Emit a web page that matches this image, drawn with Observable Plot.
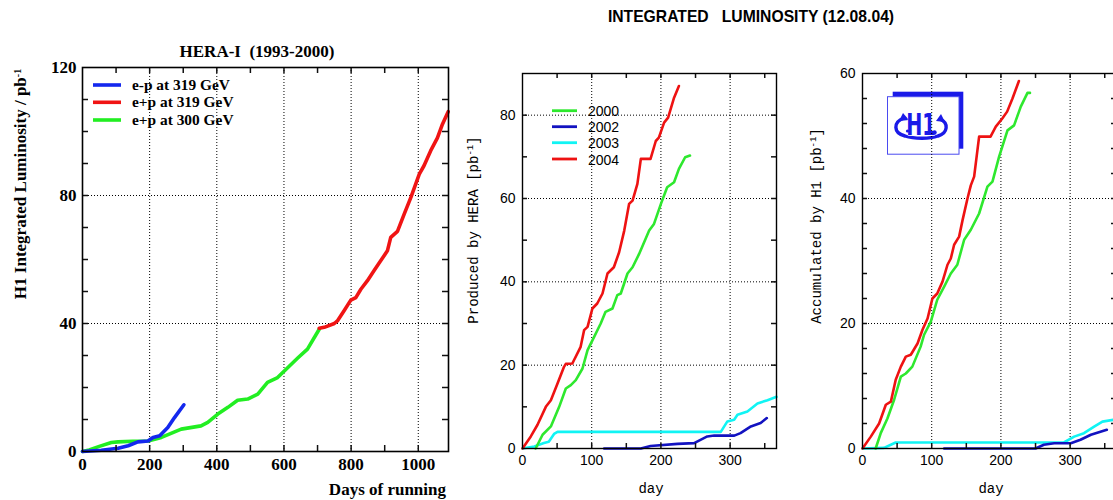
<!DOCTYPE html>
<html><head><meta charset="utf-8">
<script src="https://cdn.jsdelivr.net/npm/d3@7"></script>
<script src="https://cdn.jsdelivr.net/npm/@observablehq/plot@0.6"></script>
<style>
html,body{margin:0;padding:0;background:#fff;overflow:hidden;}
#root{position:relative;width:1113px;height:500px;overflow:hidden;background:#fff;}
#root > svg, #root > div{position:absolute;}
</style></head><body><div id="root"></div>
<script>
// ---------- Panel 1: HERA-I (1993-2000), days of running vs luminosity ----------
const h1EpDays  = [0, 56, 106, 136, 165, 195, 210, 230, 254, 274, 302];
const h1EpLum   = [0, 0.4, 1.0, 1.8, 3.0, 3.3, 4.4, 4.9, 7.5, 10.6, 14.6];
const h1Ep300Days = [0, 20, 50, 86, 106, 150, 195, 235, 294, 353, 373, 403, 433, 462, 492, 522, 551, 581, 611, 641, 670, 705];
const h1Ep300Lum  = [0, 0.5, 1.6, 2.8, 3.0, 3.2, 3.3, 4.4, 7.0, 8.0, 9.1, 11.7, 13.8, 16.0, 16.4, 17.9, 21.6, 23.1, 26.2, 29.2, 32.0, 38.2];
const h1Ep319Days = [705, 720, 750, 759, 779, 799, 814, 829, 848, 868, 888, 908, 918, 938, 958, 978, 1003, 1017, 1037, 1057, 1072, 1089];
const h1Ep319Lum  = [38.5, 38.8, 40.0, 40.8, 44.0, 47.3, 48.1, 50.7, 53.3, 56.5, 59.6, 62.7, 66.9, 68.8, 74.2, 79.4, 86.7, 89.3, 94.0, 98.0, 102.3, 106.2];
const p1Names = ["e-p at 319 GeV", "e+p at 319 GeV", "e+p at 300 GeV"];

// ---------- Panel 2: Produced by HERA ----------
const hera2000Days = [19, 29, 41, 53, 62.6, 69.8, 77, 86.7, 94, 103.5, 113, 120, 130, 137, 142, 151.7, 159, 168.5, 183, 190, 200, 209, 219, 226, 235, 242];
const hera2000Val  = [0, 3.3, 5.3, 10, 14.4, 15.2, 16.4, 19.2, 23.6, 26.8, 30, 32.8, 33.6, 36.8, 37.2, 42, 43.5, 46.7, 52.3, 53.9, 58.7, 62.7, 63.9, 67.1, 69.9, 70.3];
const hera2002Days = [118, 171, 185, 224, 248, 267, 277, 306, 315, 330, 344, 353];
const hera2002Val  = [0, 0, 0.6, 1.1, 1.3, 2.9, 3.1, 3.1, 3.7, 5.3, 6.1, 7.3];
const hera2003Days = [0, 17, 31, 38, 45.6, 50.6, 286.5, 296, 305.8, 310.6, 325, 339.5, 354, 367];
const hera2003Val  = [0, 0.5, 1.3, 1.6, 3.5, 4.0, 4.0, 6.5, 6.9, 8.1, 8.9, 10.8, 11.6, 12.4];
const hera2004Days = [0, 12, 21.7, 33.7, 41, 50.6, 60, 62.6, 72, 84, 89, 94, 101, 108, 115.6, 122.8, 132, 139.6, 147, 154, 159, 166, 171, 185, 192.6, 197, 204.6, 210.4, 219, 226];
const hera2004Val  = [0, 2.9, 5.7, 10.0, 11.6, 15.6, 19.6, 20.3, 20.4, 24.4, 28.4, 29.2, 33.6, 34.8, 37.2, 42, 43.5, 47.1, 52.3, 58.7, 59.5, 63.5, 69.5, 69.5, 73.8, 74.6, 78.2, 79.4, 84.2, 87];

// ---------- Panel 3: Accumulated by H1 ----------
const h1acc2000Days = [19, 26.5, 36, 45.7, 55.4, 62.6, 72, 84, 89, 98.7, 108, 118, 127.6, 137, 146.9, 156.5, 168.5, 180.5, 187.8, 197.4, 209.5, 219, 228.7, 238.4, 242];
const h1acc2000Val  = [0, 2.5, 4.8, 7.8, 11.5, 12.0, 13.1, 16.3, 18.2, 20.3, 23.8, 25.9, 28.0, 29.4, 33.4, 35.0, 37.6, 41.9, 42.7, 46.7, 50.9, 51.7, 54.7, 56.9, 56.9];
const h1acc2002Days = [118, 250, 262, 277, 301, 315, 330, 353];
const h1acc2002Val  = [0, 0, 0.6, 0.85, 0.85, 1.4, 2.2, 3.0];
const h1acc2003Days = [0, 31, 41, 48, 291, 305.8, 320, 334.7, 346.7, 362.6, 367];
const h1acc2003Val  = [0, 0.1, 0.6, 0.96, 0.96, 1.9, 2.45, 3.5, 4.3, 4.6, 4.6];
const h1acc2004Days = [0, 12, 24, 33.7, 41, 48, 55.4, 62.6, 69.8, 79.5, 86.7, 94, 101, 108, 115.6, 122.8, 127.6, 132.4, 139.6, 144.5, 151.7, 156.5, 161.3, 168.5, 185, 192.6, 202, 209, 216.7, 226];
const h1acc2004Val  = [0, 1.9, 4.0, 7.0, 7.5, 11.0, 13.1, 14.7, 15.0, 16.8, 19.0, 20.8, 24.0, 24.8, 26.7, 29.4, 30.4, 32.6, 33.9, 36.5, 40.0, 42.1, 43.5, 49.9, 49.9, 51.5, 52.8, 53.9, 56.0, 58.8];
const yearNames = ["2000", "2002", "2003", "2004"];

// ---------- ticks ----------
const p1XLabels = [0, 200, 400, 600, 800, 1000];
const p1XMinor  = d3.range(100, 1100, 100);
const p1YLabels = [0, 40, 80, 120];
const p1YMinor  = d3.range(10, 120, 10);
const p2XLabels = [0, 100, 200, 300];
const p2XMinor  = d3.range(50, 367, 50);
const p2YLabels = [0, 20, 40, 60, 80];
const p2YMinor  = d3.range(10, 90, 10);
const p3YLabels = [0, 20, 40, 60];
const p3YMinor  = d3.range(4, 60, 4);

const zip = (xs, ys, name) => xs.map((d, i) => ({day: d, v: ys[i], name}));

function panel(o) {
  const gridStyle = {stroke: "#000", strokeOpacity: 1, strokeWidth: 1, strokeDasharray: "1,2"};
  const t = o.tickLen;
  const pw = o.width - o.ml - o.mr;           // plot width in px
  const ph = 500 - o.mt - o.mb;               // plot height in px
  const tickStyle = {stroke: "#111", strokeWidth: 1.5};
  const font = {fontFamily: o.fontFamily, fontSize: o.fontSize, fontWeight: o.fontWeight, fill: "#000"};
  const marks = [
    Plot.gridX(o.xGrid, gridStyle),
    Plot.gridY(o.yGrid, gridStyle),
    ...o.series.map(s => Plot.line(s.data, {x: "day", y: "v", stroke: s.color, strokeWidth: o.lineWidth, strokeLinejoin: "round", strokeLinecap: "round"})),
    // inward minor ticks on all four sides (pixel insets)
    Plot.tickX(o.xMinor, {x: d => d, insetTop: ph - t, ...tickStyle}),
    Plot.tickX(o.xMinor, {x: d => d, insetBottom: ph - t, ...tickStyle}),
    Plot.tickY(o.yMinor, {y: d => d, insetRight: pw - t, ...tickStyle}),
    Plot.tickY(o.yMinor, {y: d => d, insetLeft: pw - t, ...tickStyle}),
    Plot.axisX(o.xLabels, {anchor: "bottom", tickSize: 0, tickPadding: o.padX, tickFormat: d => String(d), label: null, ...font}),
    Plot.axisY(o.yLabels, {anchor: "left", tickSize: 0, tickPadding: o.padY, tickFormat: d => String(d), label: null, ...font}),
    Plot.frame({stroke: "#000", strokeWidth: o.frameWidth})
  ];
  const svg = Plot.plot({
    width: o.width, height: 500,
    marginLeft: o.ml, marginRight: o.mr, marginTop: o.mt, marginBottom: o.mb,
    x: {domain: o.xDomain, label: null},
    y: {domain: o.yDomain, label: null},
    style: {background: "transparent", overflow: "visible"},
    marks
  });
  svg.style.left = o.left + "px";
  svg.style.top = "0px";
  return svg;
}

const root = document.getElementById("root");

const C1 = {blue: "#1428ee", red: "#f01414", green: "#22ee22"};
const C2 = {green: "#2ee82e", blue: "#1212c0", cyan: "#10f4f4", red: "#ee1212"};

root.appendChild(panel({
  left: 0, width: 460, ml: 82, mr: 12, mt: 67, mb: 49,
  xDomain: [0, 1090], yDomain: [0, 120],
  xGrid: [200, 400, 600, 800, 1000], yGrid: [40, 80],
  xMinor: p1XMinor, yMinor: p1YMinor, xLabels: p1XLabels, yLabels: p1YLabels,
  tickLen: 6, padX: 6, padY: 6, lineWidth: 3.6, frameWidth: 1.6,
  fontFamily: "Liberation Serif", fontSize: 17, fontWeight: "bold",
  series: [
    {data: zip(h1Ep300Days, h1Ep300Lum, p1Names[2]), color: C1.green},
    {data: zip(h1Ep319Days, h1Ep319Lum, p1Names[1]), color: C1.red},
    {data: zip(h1EpDays, h1EpLum, p1Names[0]), color: C1.blue}
  ]
}));

root.appendChild(panel({
  left: 460, width: 330, ml: 62, mr: 14, mt: 73, mb: 52,
  xDomain: [0, 367], yDomain: [0, 90],
  xGrid: [100, 200, 300], yGrid: [20, 40, 60, 80],
  xMinor: p2XMinor, yMinor: p2YMinor, xLabels: p2XLabels, yLabels: p2YLabels,
  tickLen: 5, padX: 7, padY: 7, lineWidth: 2.6, frameWidth: 1.4,
  fontFamily: "Liberation Sans", fontSize: 14, fontWeight: "normal",
  series: [
    {data: zip(hera2003Days, hera2003Val, "2003"), color: C2.cyan},
    {data: zip(hera2002Days, hera2002Val, "2002"), color: C2.blue},
    {data: zip(hera2000Days, hera2000Val, "2000"), color: C2.green},
    {data: zip(hera2004Days, hera2004Val, "2004"), color: C2.red}
  ]
}));

// H1 logo (behind panel 3 grid)
const logo = document.createElementNS("http://www.w3.org/2000/svg", "svg");
logo.setAttribute("width", 1113); logo.setAttribute("height", 500);
logo.style.left = "0px"; logo.style.top = "0px";
logo.innerHTML = `
  <rect x="892.7" y="91.7" width="70.6" height="57" fill="#1a1ae8"/>
  <rect x="887.5" y="96.7" width="71.5" height="57.5" fill="#fff" stroke="#4a4af0" stroke-width="1"/>
  <path d="M904 118 C 893 122, 893 133, 905 136 C 914 139, 930 139, 938 136 C 948 133, 949 123, 940 119"
        fill="none" stroke="#1a1ae8" stroke-width="3.4"/>
  <path d="M899 121 L903 113 L909 120 Z" fill="#1a1ae8"/>
  <path d="M936 121 L941 114 L945 122 Z" fill="#1a1ae8"/>
  <text x="0" y="0" transform="translate(921,135) scale(0.62,1)" text-anchor="middle" font-family="DejaVu Sans" font-weight="bold" font-size="31" fill="#1a1ae8" stroke="#fff" stroke-width="1" paint-order="stroke">H1</text>
  <circle cx="934.5" cy="132.5" r="2.2" fill="#1a1ae8"/>
  <circle cx="907.5" cy="131" r="1.6" fill="#1a1ae8"/>`;
root.appendChild(logo);

root.appendChild(panel({
  left: 790, width: 340, ml: 72, mr: 14, mt: 73, mb: 52,
  xDomain: [0, 367], yDomain: [0, 60],
  xGrid: [100, 200, 300], yGrid: [20, 40],
  xMinor: p2XMinor, yMinor: p3YMinor, xLabels: p2XLabels, yLabels: p3YLabels,
  tickLen: 5, padX: 7, padY: 7, lineWidth: 2.6, frameWidth: 1.4,
  fontFamily: "Liberation Sans", fontSize: 14, fontWeight: "normal",
  series: [
    {data: zip(h1acc2003Days, h1acc2003Val, "2003"), color: C2.cyan},
    {data: zip(h1acc2002Days, h1acc2002Val, "2002"), color: C2.blue},
    {data: zip(h1acc2000Days, h1acc2000Val, "2000"), color: C2.green},
    {data: zip(h1acc2004Days, h1acc2004Val, "2004"), color: C2.red}
  ]
}));

// ---------- text overlay: titles, axis labels, legends ----------
const ov = d3.select(root).append("svg").attr("width", 1113).attr("height", 500)
  .style("left", "0px").style("top", "0px");

ov.append("text").attr("x", 751).attr("y", 21.5).attr("text-anchor", "middle")
  .attr("font-family", "Liberation Sans").attr("font-weight", "bold").attr("font-size", 15.7)
  .style("white-space", "pre").text("INTEGRATED   LUMINOSITY (12.08.04)");

const serif = s => s.attr("font-family", "Liberation Serif").attr("font-weight", "bold");
serif(ov.append("text")).attr("x", 257).attr("y", 57).attr("text-anchor", "middle").attr("font-size", 17)
  .style("white-space", "pre").text("HERA-I  (1993-2000)");
serif(ov.append("text")).attr("x", 446).attr("y", 494.5).attr("text-anchor", "end").attr("font-size", 17)
  .text("Days of running");
{
  const t = serif(ov.append("text")).attr("transform", "translate(25.5,184) rotate(-90)")
    .attr("text-anchor", "middle").attr("font-size", 17);
  t.append("tspan").text("H1 Integrated Luminosity / pb");
  t.append("tspan").attr("baseline-shift", "super").attr("font-size", 10).text("-1");
}
// legend panel 1
const leg1 = [[p1Names[0], C1.blue], [p1Names[1], C1.red], [p1Names[2], C1.green]];
const leg1Y = [85, 102.3, 120];
leg1.forEach(([name, col], i) => {
  ov.append("line").attr("x1", 93).attr("x2", 121).attr("y1", leg1Y[i]).attr("y2", leg1Y[i])
    .attr("stroke", col).attr("stroke-width", 3.6);
  serif(ov.append("text")).attr("x", 132).attr("y", leg1Y[i] + 5).attr("font-size", 15.4).text(name);
});

// panel 2 / 3 labels
const mono = s => s.attr("font-family", "Liberation Mono").attr("font-size", 14);
function yLab(x, y, main) {
  const t = mono(ov.append("text")).attr("transform", `translate(${x},${y}) rotate(-90)`).attr("text-anchor", "middle");
  t.append("tspan").text(main + " [pb");
  t.append("tspan").attr("baseline-shift", "super").attr("font-size", 9).text("-1");
  t.append("tspan").text("]");
}
yLab(478, 230, "Produced by HERA");
yLab(821, 226, "Accumulated by H1");
mono(ov.append("text")).attr("x", 651).attr("y", 493).attr("text-anchor", "middle").text("day");
mono(ov.append("text")).attr("x", 991).attr("y", 493).attr("text-anchor", "middle").text("day");

const leg2Col = [C2.green, C2.blue, C2.cyan, C2.red];
const leg2Y = [110.7, 126.7, 142.7, 159];
yearNames.forEach((name, i) => {
  ov.append("line").attr("x1", 552).attr("x2", 577).attr("y1", leg2Y[i]).attr("y2", leg2Y[i])
    .attr("stroke", leg2Col[i]).attr("stroke-width", 2.8);
  ov.append("text").attr("x", 588).attr("y", leg2Y[i] + 5.5).attr("font-family", "Liberation Sans")
    .attr("font-size", 14).text(name);
});
</script>
</body></html>
